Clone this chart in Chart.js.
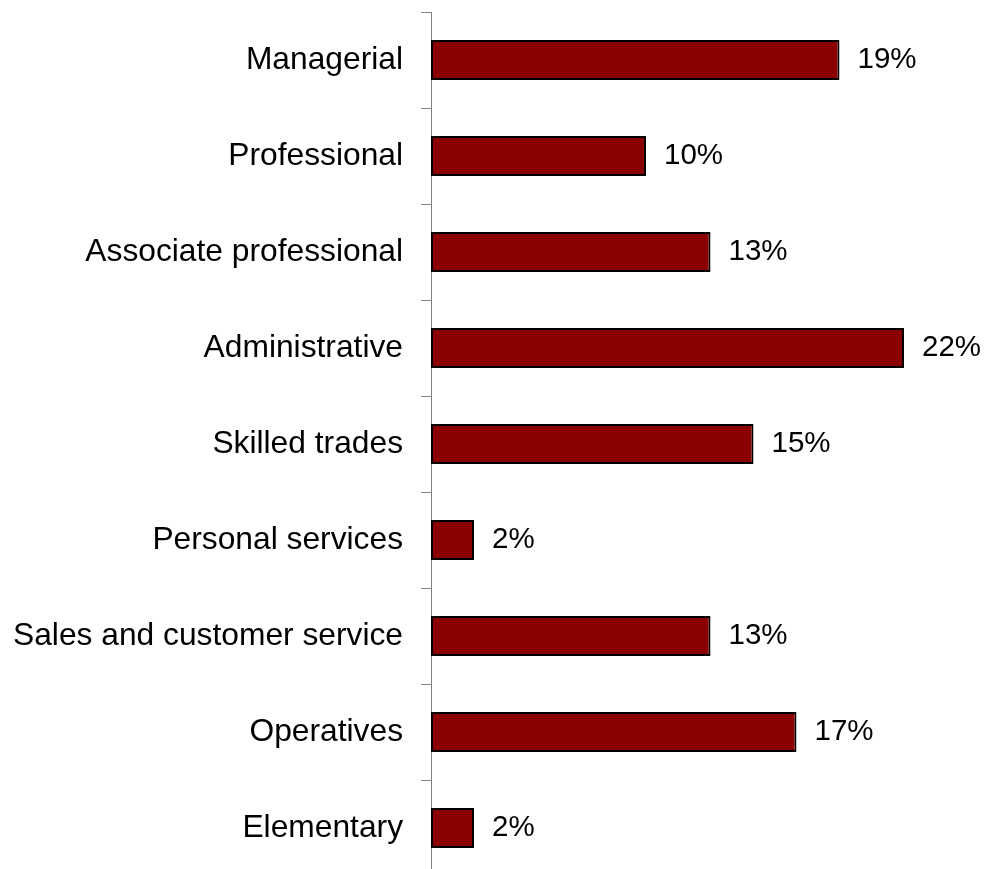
<!DOCTYPE html>
<html>
<head>
<meta charset="utf-8">
<style>
  html, body { margin: 0; padding: 0; background: #fff; overflow: hidden; }
  #wrap { width: 987px; height: 876px; }
</style>
<script src="https://cdn.jsdelivr.net/npm/chart.js@4/dist/chart.umd.min.js"></script>
</head>
<body>
<div id="wrap"><canvas id="occupationChart" width="987" height="876"></canvas></div>
<script>
var categories = ['Managerial', 'Professional', 'Associate professional', 'Administrative',
    'Skilled trades', 'Personal services', 'Sales and customer service', 'Operatives', 'Elementary'];
var shares = [19, 10, 13, 22, 15, 2, 13, 17, 2];

var fontFamily = '"Liberation Sans", Arial, sans-serif';

// percentage labels to the right of each bar
var valueLabels = {
    id: 'valueLabels',
    afterDatasetsDraw: function (chart) {
        var c = chart.ctx;
        var meta = chart.getDatasetMeta(0);
        c.save();
        c.font = '29.5px ' + fontFamily;
        c.fillStyle = '#000';
        c.textAlign = 'left';
        c.textBaseline = 'middle';
        meta.data.forEach(function (bar, i) {
            c.fillText(shares[i] + '%', bar.x + 18, bar.y);
        });
        c.restore();
    }
};

var ctx = document.getElementById('occupationChart').getContext('2d');
var occupationChart = new Chart(ctx, {
    type: 'bar',
    data: {
        labels: categories,
        datasets: [{
            data: shares,
            backgroundColor: '#8B0000',
            borderColor: '#000000',
            borderWidth: 2,
            borderSkipped: false,
            categoryPercentage: 1,
            barPercentage: 0.417
        }]
    },
    options: {
        indexAxis: 'y',
        responsive: false,
        animation: false,
        layout: { padding: { top: 12, right: 18.5, bottom: 0, left: 0 } },
        plugins: {
            legend: { display: false },
            tooltip: { enabled: false }
        },
        scales: {
            x: {
                display: false,
                min: 0,
                max: 25
            },
            y: {
                afterFit: function (scale) {
                    scale.width = 431;
                    scale.paddingTop = 0;
                    scale.paddingBottom = 0;
                },
                border: { display: true, color: '#808080', width: 1 },
                grid: {
                    drawOnChartArea: false,
                    drawTicks: true,
                    tickLength: 10,
                    offset: true,
                    color: '#808080'
                },
                ticks: {
                    padding: 18,
                    color: '#000',
                    font: { family: fontFamily, size: 31.75 }
                }
            }
        }
    },
    plugins: [valueLabels]
});
</script>
</body>
</html>
